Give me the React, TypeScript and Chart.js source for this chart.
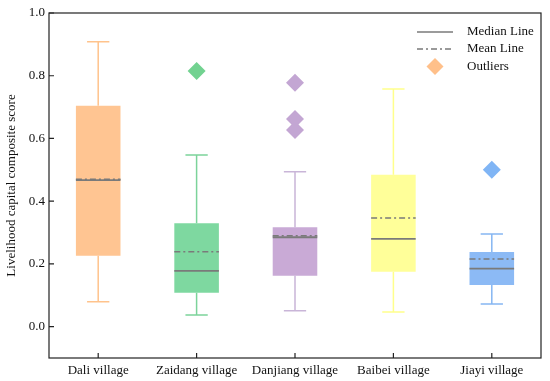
import React, { useEffect, useRef } from "react";
import { Chart, registerables } from "chart.js";

Chart.register(...registerables);

const categories = ["Dali village", "Zaidang village", "Danjiang village", "Baibei village", "Jiayi village"];
const whiskerLow = [0.079, 0.037, 0.051, 0.047, 0.072];
const q1 = [0.226, 0.108, 0.162, 0.175, 0.133];
const median = [0.467, 0.178, 0.285, 0.28, 0.185];
const mean = [0.47, 0.239, 0.29, 0.346, 0.216];
const q3 = [0.704, 0.33, 0.317, 0.484, 0.238];
const whiskerHigh = [0.908, 0.547, 0.494, 0.758, 0.295];
const outlierCategory = ["Zaidang village", "Danjiang village", "Danjiang village", "Danjiang village", "Jiayi village"];
const outlierValue = [0.815, 0.778, 0.662, 0.627, 0.5];
const yTicks = [0, 0.2, 0.4, 0.6, 0.8, 1.0];
const legendLabels = ["Median Line", "Mean Line", "Outliers"];

const boxColors = ["#FFC592", "#7ED8A0", "#C9AAD6", "#FFFF99", "#8CBAF5"];
const whiskerColors = ["#FFC38C", "#7CD39A", "#C9B5D8", "#FFFF8C", "#86B6F2"];
const outlierColors: Record<string, string> = {
  "Zaidang village": "#72D290",
  "Danjiang village": "#C3A6D3",
  "Jiayi village": "#80B5F5",
};
const FONT = "'Liberation Serif', 'Times New Roman', serif";
const lineGray = "#7A7A7A";

const boxPlugin = {
  id: "boxExtras",
  beforeDatasetsDraw(chart: any) {
    const { ctx, scales } = chart;
    const x = scales.x;
    const y = scales.y;
    const meta = chart.getDatasetMeta(0);
    ctx.save();
    categories.forEach((c, i) => {
      const cx = x.getPixelForValue(i);
      const bw = meta.data[i] ? meta.data[i].width : 44;
      const cap = bw / 2;
      ctx.strokeStyle = whiskerColors[i];
      ctx.lineWidth = 1.5;
      ctx.beginPath();
      ctx.moveTo(cx, y.getPixelForValue(q3[i]));
      ctx.lineTo(cx, y.getPixelForValue(whiskerHigh[i]));
      ctx.moveTo(cx - cap / 2, y.getPixelForValue(whiskerHigh[i]));
      ctx.lineTo(cx + cap / 2, y.getPixelForValue(whiskerHigh[i]));
      ctx.moveTo(cx, y.getPixelForValue(q1[i]));
      ctx.lineTo(cx, y.getPixelForValue(whiskerLow[i]));
      ctx.moveTo(cx - cap / 2, y.getPixelForValue(whiskerLow[i]));
      ctx.lineTo(cx + cap / 2, y.getPixelForValue(whiskerLow[i]));
      ctx.stroke();
    });
    ctx.restore();
  },
  afterDatasetsDraw(chart: any) {
    const { ctx, scales } = chart;
    const x = scales.x;
    const y = scales.y;
    const meta = chart.getDatasetMeta(0);
    ctx.save();
    categories.forEach((c, i) => {
      const cx = x.getPixelForValue(i);
      const bw = meta.data[i] ? meta.data[i].width : 44;
      ctx.strokeStyle = lineGray;
      ctx.lineWidth = 1.5;
      ctx.setLineDash([6, 3, 2, 3]);
      ctx.beginPath();
      const my = y.getPixelForValue(mean[i]);
      ctx.moveTo(cx - bw / 2, my);
      ctx.lineTo(cx + bw / 2, my);
      ctx.stroke();
      ctx.setLineDash([]);
      ctx.lineWidth = 1.8;
      ctx.beginPath();
      const mdy = y.getPixelForValue(median[i]);
      ctx.moveTo(cx - bw / 2, mdy);
      ctx.lineTo(cx + bw / 2, mdy);
      ctx.stroke();
    });
    ctx.restore();
  },
  afterDraw(chart: any) {
    const { ctx, chartArea, scales } = chart;
    const x = scales.x;
    const y = scales.y;
    ctx.save();
    ctx.strokeStyle = "#222";
    ctx.lineWidth = 1.2;
    ctx.strokeRect(chartArea.left, chartArea.top, chartArea.right - chartArea.left, chartArea.bottom - chartArea.top);
    ctx.beginPath();
    yTicks.forEach((v) => {
      const py = y.getPixelForValue(v);
      ctx.moveTo(chartArea.left, py);
      ctx.lineTo(chartArea.left + 5, py);
    });
    categories.forEach((c, i) => {
      const px = x.getPixelForValue(i);
      ctx.moveTo(px, chartArea.bottom);
      ctx.lineTo(px, chartArea.bottom - 5);
    });
    ctx.stroke();

    // legend
    const lx1 = chartArea.right - 124;
    const lx2 = lx1 + 36;
    const tx = lx2 + 14;
    const rows = [chartArea.top + 19, chartArea.top + 36, chartArea.top + 53.5];
    ctx.strokeStyle = lineGray;
    ctx.lineWidth = 1.5;
    ctx.beginPath();
    ctx.moveTo(lx1, rows[0]);
    ctx.lineTo(lx2, rows[0]);
    ctx.stroke();
    ctx.setLineDash([6, 3, 2, 3]);
    ctx.beginPath();
    ctx.moveTo(lx1, rows[1]);
    ctx.lineTo(lx2, rows[1]);
    ctx.stroke();
    ctx.setLineDash([]);
    const dx = (lx1 + lx2) / 2;
    const r = 8.5;
    ctx.fillStyle = "#FFC08A";
    ctx.beginPath();
    ctx.moveTo(dx, rows[2] - r);
    ctx.lineTo(dx + r, rows[2]);
    ctx.lineTo(dx, rows[2] + r);
    ctx.lineTo(dx - r, rows[2]);
    ctx.closePath();
    ctx.fill();
    ctx.fillStyle = "#111";
    ctx.font = `13px ${FONT}`;
    ctx.textBaseline = "middle";
    ctx.textAlign = "left";
    legendLabels.forEach((t, i) => ctx.fillText(t, tx, rows[i]));
    ctx.restore();
  },
};

export default function App() {
  const ref = useRef<HTMLCanvasElement | null>(null);
  useEffect(() => {
    if (!ref.current) return;
    const chart = new Chart(ref.current, {
      type: "bar",
      data: {
        labels: categories,
        datasets: [
          {
            type: "bar",
            data: categories.map((c, i) => [q1[i], q3[i]]) as any,
            backgroundColor: boxColors,
            borderWidth: 0,
            barPercentage: 1,
            categoryPercentage: 0.453,
          },
          {
            type: "line",
            data: outlierCategory.map((c, i) => ({ x: c, y: outlierValue[i] })) as any,
            showLine: false,
            pointStyle: "rectRot",
            pointRadius: 9,
            pointBorderWidth: 0,
            pointBackgroundColor: outlierCategory.map((c) => outlierColors[c]),
            pointBorderColor: outlierCategory.map((c) => outlierColors[c]),
          } as any,
        ],
      },
      options: {
        animation: false,
        responsive: false,
        layout: { padding: { top: 13, right: 8, left: 0, bottom: 0 } },
        plugins: { legend: { display: false }, tooltip: { enabled: false } },
        scales: {
          x: {
            grid: { display: false, drawTicks: false },
            border: { display: false },
            ticks: { color: "#111", font: { family: FONT, size: 13 }, padding: 5, maxRotation: 0 },
            afterFit: (s: any) => {
              s.height = 23;
            },
          },
          y: {
            min: -0.1,
            max: 1.0,
            grid: { display: false, drawTicks: false },
            border: { display: false },
            afterBuildTicks: (s: any) => {
              s.ticks = yTicks.map((v) => ({ value: v }));
            },
            ticks: {
              color: "#111",
              font: { family: FONT, size: 13 },
              padding: 4,
              callback: (v: any) => Number(v).toFixed(1),
            },
            title: {
              display: true,
              text: "Livelihood capital composite score",
              color: "#111",
              font: { family: FONT, size: 13 },
              padding: { top: 4, bottom: 4 },
            },
            afterFit: (s: any) => {
              s.width = 49;
            },
          },
        },
      },
      plugins: [boxPlugin],
    });
    return () => chart.destroy();
  }, []);
  return (
    <div style={{ position: "absolute", left: 0, top: 0, width: 550, height: 381, background: "#fff" }}>
      <canvas ref={ref} width={550} height={381} />
    </div>
  );
}
